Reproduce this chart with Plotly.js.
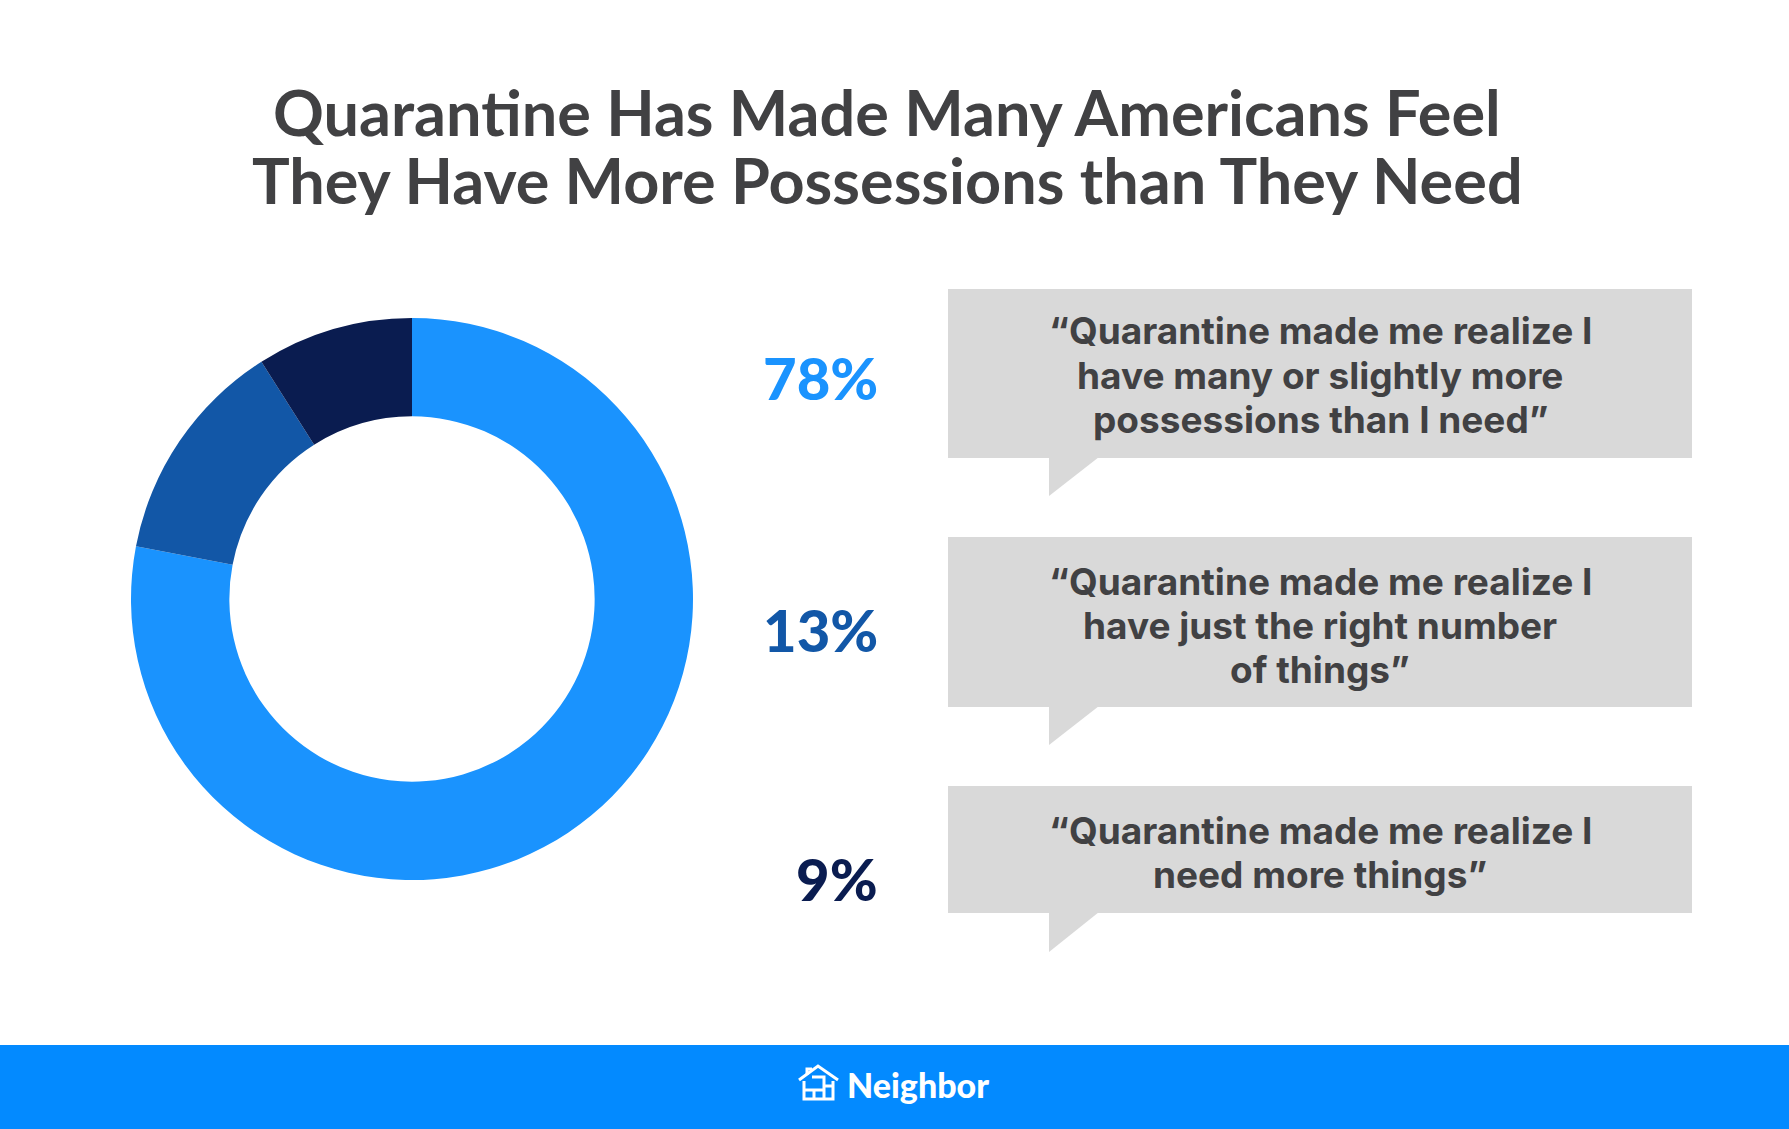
<!DOCTYPE html>
<html>
<head>
<meta charset="utf-8">
<script src="https://cdn.plot.ly/plotly-3.0.1.min.js"></script>
<style>html,body{margin:0;padding:0;background:#fff;}#chart{width:1789px;height:1129px;}</style>
</head>
<body>
<div id="chart"></div>
<script>
// ---- data ----
const categories = [
  "“Quarantine made me realize I<br>have many or slightly more<br>possessions than I need”",
  "“Quarantine made me realize I<br>have just the right number<br>of things”",
  "“Quarantine made me realize I<br>need more things”"
];
const shares = [78, 13, 9];
const sliceColors = ["#1A93FE", "#1257A7", "#0A1C50"];
const titleLines = ["Quarantine Has Made Many Americans Feel", "They Have More Possessions than They Need"];
const brand = "Neighbor";

// ---- layout helpers (pixel -> paper) ----
const W = 1789, H = 1129;
const X = px => px / W;
const Y = py => 1 - py / H;
const FONT = "Lato, 'Open Sans', sans-serif";
const QFONT = "Inter, Lato, sans-serif";
const TEXT = "#414143";

// donut geometry
const cx = 412, cy = 599, r = 281;

const trace = {
  type: "pie",
  values: shares,
  labels: categories,
  marker: { colors: sliceColors, line: { width: 0 } },
  hole: 0.65,
  sort: false,
  direction: "clockwise",
  rotation: 0,
  textinfo: "none",
  hoverinfo: "label+percent",
  showlegend: false,
  domain: { x: [X(cx - r), X(cx + r)], y: [Y(cy + r), Y(cy - r)] }
};

// bubbles: [top, bottom, tailTip]
const bubbleBoxes = [[289, 458, 496], [537, 707, 745], [786, 913, 952]];
const bubbleFirstLineY = [331, 581, 830];
const lineGap = 44;
const pctY = [378, 629, 878];
const bx0 = 948, bx1 = 1692, tailL = 1049, tailR = 1099;

const shapes = [];
const annotations = [];

// footer band
shapes.push({ type: "rect", xref: "paper", yref: "paper", x0: 0, x1: 1, y0: 0, y1: Y(1045),
  fillcolor: "#038AFF", line: { width: 0 }, layer: "below" });

bubbleBoxes.forEach((b, i) => {
  shapes.push({ type: "rect", xref: "paper", yref: "paper",
    x0: X(bx0), x1: X(bx1), y0: Y(b[1]), y1: Y(b[0]),
    fillcolor: "#D9D9D9", line: { width: 0 }, layer: "below" });
  shapes.push({ type: "path", xref: "paper", yref: "paper",
    path: `M ${X(tailL)} ${Y(b[1] - 1)} L ${X(tailR)} ${Y(b[1] - 1)} L ${X(tailL)} ${Y(b[2])} Z`,
    fillcolor: "#D9D9D9", line: { width: 0 }, layer: "below" });
  categories[i].split("<br>").forEach((ln, k) => {
    annotations.push({ xref: "paper", yref: "paper", x: X((bx0 + bx1) / 2), y: Y(bubbleFirstLineY[i] + k * lineGap),
      xanchor: "center", yanchor: "middle", align: "center", showarrow: false,
      text: ln, font: { family: QFONT, size: 37, color: TEXT, weight: 700 } });
  });
  annotations.push({ xref: "paper", yref: "paper", x: X(880), y: Y(pctY[i]),
    xanchor: "right", yanchor: "middle", showarrow: false,
    text: shares[i] + "%", font: { family: FONT, size: 58, color: sliceColors[i], weight: 900 } });
});

// title lines
[111, 180].forEach((yy, i) => {
  annotations.push({ xref: "paper", yref: "paper", x: X(887), y: Y(yy),
    xanchor: "center", yanchor: "middle", showarrow: false,
    text: titleLines[i], font: { family: FONT, size: 63, color: TEXT, weight: 700 } });
});

// brand
annotations.push({ xref: "paper", yref: "paper", x: X(845), y: Y(1084),
  xanchor: "left", yanchor: "middle", showarrow: false,
  text: brand, font: { family: FONT, size: 34, color: "#FFFFFF", weight: 900 } });

// house icon (white strokes)
const P = (x, y) => `${X(x)} ${Y(y)}`;
const iconLine = { color: "#FFFFFF", width: 3 };
shapes.push({ type: "path", xref: "paper", yref: "paper",
  path: `M ${P(799, 1080)} L ${P(818, 1066)} L ${P(838, 1080)}`, line: iconLine });
shapes.push({ type: "path", xref: "paper", yref: "paper",
  path: `M ${P(807, 1075)} L ${P(807, 1069)} L ${P(812, 1069)}`, line: iconLine });
shapes.push({ type: "path", xref: "paper", yref: "paper",
  path: `M ${P(804, 1081)} L ${P(804, 1099)} L ${P(833, 1099)} L ${P(833, 1081)}`, line: iconLine });
shapes.push({ type: "path", xref: "paper", yref: "paper",
  path: `M ${P(812, 1077)} L ${P(824, 1077)} L ${P(824, 1099)}`, line: iconLine });
shapes.push({ type: "path", xref: "paper", yref: "paper",
  path: `M ${P(804, 1090)} L ${P(824, 1090)} M ${P(814, 1090)} L ${P(814, 1099)} M ${P(824, 1086)} L ${P(833, 1086)}`, line: iconLine });

const layout = {
  width: W, height: H,
  margin: { l: 0, r: 0, t: 0, b: 0 },
  paper_bgcolor: "#FFFFFF",
  plot_bgcolor: "#FFFFFF",
  showlegend: false,
  shapes: shapes,
  annotations: annotations
};

Plotly.newPlot("chart", [trace], layout, { displayModeBar: false, staticPlot: true });
</script>
</body>
</html>
